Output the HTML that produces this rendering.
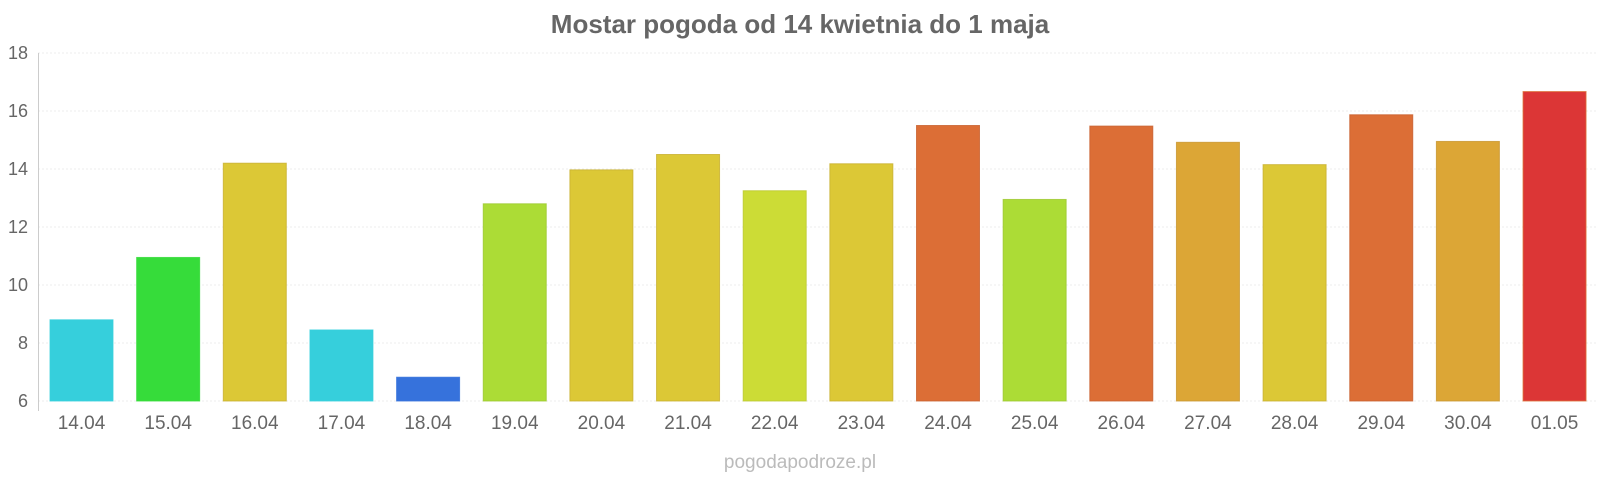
<!DOCTYPE html>
<html><head><meta charset="utf-8"><style>body{margin:0;background:#fff}svg{display:block}</style></head><body>
<svg width="1600" height="480" xmlns="http://www.w3.org/2000/svg" font-family="Liberation Sans, sans-serif">
<text x="800" y="33" text-anchor="middle" font-size="26" font-weight="bold" fill="#666">Mostar pogoda od 14 kwietnia do 1 maja</text>
<g stroke="#eee" stroke-dasharray="2,2">
<line x1="38" x2="1598" y1="53" y2="53"/><line x1="38" x2="1598" y1="111" y2="111"/><line x1="38" x2="1598" y1="169" y2="169"/><line x1="38" x2="1598" y1="227" y2="227"/><line x1="38" x2="1598" y1="285" y2="285"/><line x1="38" x2="1598" y1="343" y2="343"/><line x1="38" x2="1598" y1="401" y2="401"/>
</g>
<line x1="38.5" x2="38.5" y1="53" y2="411" stroke="#ccc"/>
<g font-size="18" fill="#666" text-anchor="end">
<text x="28" y="59">18</text><text x="28" y="117">16</text><text x="28" y="175">14</text><text x="28" y="233">12</text><text x="28" y="291">10</text><text x="28" y="349">8</text><text x="28" y="407">6</text>
</g>
<g stroke-opacity="0.8">
<rect x="50" y="319.8" width="63" height="81.2" fill="#36cfdc" stroke="#36cfdc"/>
<rect x="136.65" y="257.45" width="63" height="143.55" fill="#36dc3a" stroke="#36dc3a"/>
<rect x="223.3" y="163.2" width="63" height="237.8" fill="#dcc836" stroke="#c8b030"/>
<rect x="309.95" y="329.95" width="63" height="71.05" fill="#36cfdc" stroke="#36cfdc"/>
<rect x="396.6" y="377.22" width="63" height="23.78" fill="#3672dc" stroke="#3672dc"/>
<rect x="483.25" y="203.8" width="63" height="197.2" fill="#acdc36" stroke="#9cc830"/>
<rect x="569.9" y="169.87" width="63" height="231.13" fill="#dcc836" stroke="#c8b030"/>
<rect x="656.55" y="154.5" width="63" height="246.5" fill="#dcc836" stroke="#c8b030"/>
<rect x="743.2" y="190.75" width="63" height="210.25" fill="#ccdc36" stroke="#bcc830"/>
<rect x="829.85" y="163.78" width="63" height="237.22" fill="#dcc836" stroke="#c8b030"/>
<rect x="916.5" y="125.5" width="63" height="275.5" fill="#dc6e36" stroke="#c86030"/>
<rect x="1003.15" y="199.45" width="63" height="201.55" fill="#acdc36" stroke="#9cc830"/>
<rect x="1089.8" y="126.08" width="63" height="274.92" fill="#dc6e36" stroke="#c86030"/>
<rect x="1176.45" y="142.32" width="63" height="258.68" fill="#dca636" stroke="#c89630"/>
<rect x="1263.1" y="164.65" width="63" height="236.35" fill="#dcc836" stroke="#c8b030"/>
<rect x="1349.75" y="114.77" width="63" height="286.23" fill="#dc6e36" stroke="#c86030"/>
<rect x="1436.4" y="141.45" width="63" height="259.55" fill="#dca636" stroke="#c89630"/>
<rect x="1523.05" y="91.57" width="63" height="309.43" fill="#dc3636" stroke="#dc6e36"/>
</g>
<g font-size="19" fill="#666" text-anchor="middle">
<text x="81.5" y="429">14.04</text><text x="168.15" y="429">15.04</text><text x="254.8" y="429">16.04</text><text x="341.45" y="429">17.04</text><text x="428.1" y="429">18.04</text><text x="514.75" y="429">19.04</text><text x="601.4" y="429">20.04</text><text x="688.05" y="429">21.04</text><text x="774.7" y="429">22.04</text><text x="861.35" y="429">23.04</text><text x="948" y="429">24.04</text><text x="1034.65" y="429">25.04</text><text x="1121.3" y="429">26.04</text><text x="1207.95" y="429">27.04</text><text x="1294.6" y="429">28.04</text><text x="1381.25" y="429">29.04</text><text x="1467.9" y="429">30.04</text><text x="1554.55" y="429">01.05</text>
</g>
<text x="800" y="468" text-anchor="middle" font-size="19" fill="#bbb">pogodapodroze.pl</text>
</svg>
</body></html>
